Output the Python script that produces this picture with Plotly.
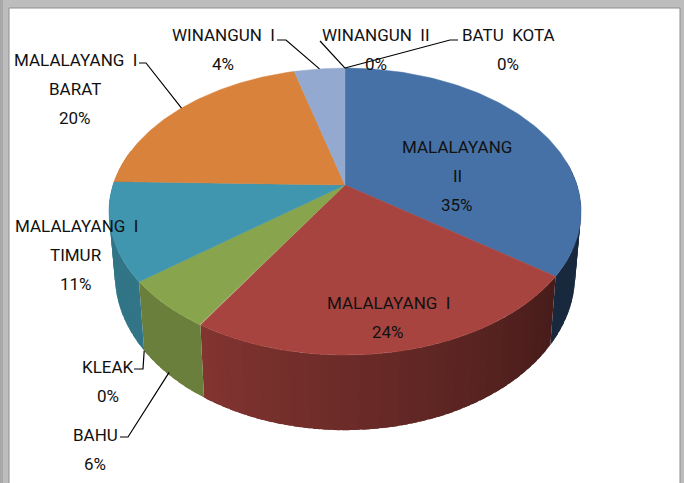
import numpy as np
import plotly.graph_objects as go

# --- data ---
labels = ["MALALAYANG|II", "MALALAYANG  I", "BAHU", "KLEAK", "MALALAYANG  I|TIMUR",
          "MALALAYANG  I|BARAT", "WINANGUN  I", "WINANGUN  II", "BATU  KOTA"]
values = [35.0, 23.8, 5.6, 0, 11.0, 20.45, 4.15, 0, 0]
colors = ["#4671A6", "#A8443F", "#88A44C", "#7D5FA0", "#3F96AE", "#D9823B", "#93A9CF", "#B0C4DE", "#C0C0C0"]

# --- label layout (pixels in the 684x483 page) ---
label_x = [457, 388, 95, 108, 76, 75, 223, 376, 508]
label_y = [147, 303, 435, 367, 226, 60, 35, 35, 35]
line_gap = 29
leaders = {
    "WINANGUN  I": [(277, 40), (286, 40)],
    "WINANGUN  II": [(320, 41)],
    "BATU  KOTA": [(458, 40), (450, 40)],
    "MALALAYANG  I|BARAT": [(139, 63), (146, 63)],
    "KLEAK": [(134, 369), (143, 369)],
    "BAHU": [(120, 437), (128, 437)],
}

# --- perspective pie geometry ---
CX, CY, A, B, K = 345, 185, 232, 138.6, 0.185
SX, SY, DROP = 0.975, 1.083, 61


def project(theta, r=1.0, bottom=False):
    u, v = r * np.sin(theta), -r * np.cos(theta)
    w = 1 - K * v
    if bottom:
        return CX + SX * A * u / w, CY + DROP + SY * B * v / w
    return CX + A * u / w, CY + B * v / w


def shade(deg):
    if deg < 126:
        return 0.37
    return float(np.clip(0.42 + (deg - 126) / 86 * 0.36, 0.42, 0.78))


def dim(hex_color, f):
    c = [int(hex_color[i:i + 2], 16) for i in (1, 3, 5)]
    return "rgb(%d,%d,%d)" % tuple(int(x * f) for x in c)


total = sum(values)
ends = np.cumsum(values) / total * 2 * np.pi
starts = ends - np.array(values) / total * 2 * np.pi

fig = go.Figure()


def poly(xs, ys, color, width=0.0):
    fig.add_trace(go.Scatter(x=list(xs), y=list(ys), mode="lines", fill="toself", fillcolor=color,
                             line=dict(color=color, width=width), hoverinfo="skip", showlegend=False))


# side wall, drawn as overlapping gradient strips (only front half is visible)
overlap = np.radians(1.5)
for s, e, c in zip(starts, ends, colors):
    lo, hi = max(s, np.radians(80)), min(e, np.radians(285))
    if hi <= lo:
        continue
    n = max(2, int(np.degrees(hi - lo) / 2))
    edges = np.linspace(lo, hi, n + 1)
    for a0, a1 in zip(edges[:-1], edges[1:]):
        ts = np.linspace(a0, min(a1 + overlap, hi), 3)
        tx, ty = project(ts)
        bx, by = project(ts[::-1], bottom=True)
        poly(np.r_[tx, bx], np.r_[ty, by], dim(c, shade(np.degrees((a0 + a1) / 2))))

# top face
for s, e, c in zip(starts, ends, colors):
    if e - s <= 0:
        continue
    ts = np.linspace(s, e, 120)
    x, y = project(ts)
    poly(np.r_[CX, x, CX], np.r_[CY, y, CY], c, 0.5)

# leader lines: from label elbow to the slice edge
for name, s, e in zip(labels, starts, ends):
    if name not in leaders:
        continue
    mid = (s + e) / 2
    if name == "BAHU":
        x0, y0 = project(mid)
        x1, y1 = project(mid, bottom=True)
        end = (x0 * 0.25 + x1 * 0.75, y0 * 0.05 + y1 * 0.95)
    elif name == "KLEAK":
        end = project(mid, bottom=True)
    else:
        end = project(mid)
    pts = leaders[name] + [end]
    fig.add_trace(go.Scatter(x=[p[0] for p in pts], y=[p[1] for p in pts], mode="lines",
                             line=dict(color="black", width=1.2), hoverinfo="skip", showlegend=False))

# text
FONT = dict(family="Roboto, Open Sans, sans-serif", size=17, color="#111111")
anns = []
for name, v, x, y in zip(labels, values, label_x, label_y):
    lines = name.split("|") + ["%d%%" % round(v)]
    for i, t in enumerate(lines):
        anns.append(dict(x=x, y=y + i * line_gap, text=t.replace("  ", "\u00a0\u00a0"), showarrow=False,
                         xref="x", yref="y", xanchor="center", yanchor="middle", font=FONT))

fig.update_layout(
    width=684, height=483, margin=dict(l=0, r=0, t=0, b=0),
    paper_bgcolor="#BDBDBD", plot_bgcolor="#BDBDBD", showlegend=False,
    xaxis=dict(range=[0, 684], visible=False, fixedrange=True),
    yaxis=dict(range=[483, 0], visible=False, fixedrange=True),
    annotations=anns,
    shapes=[
        dict(type="rect", xref="x", yref="y", x0=0, x1=3, y0=0, y1=483, fillcolor="#A8A8A8", line_width=0, layer="below"),
        dict(type="rect", xref="x", yref="y", x0=9, x1=680, y0=8, y1=490, fillcolor="#FFFFFF",
             line=dict(color="#8E8E8E", width=1), layer="below"),
    ],
)
fig.write_html("out.html", config={"displayModeBar": False},
               post_script="document.body.style.margin='0';document.body.style.overflow='hidden';")
